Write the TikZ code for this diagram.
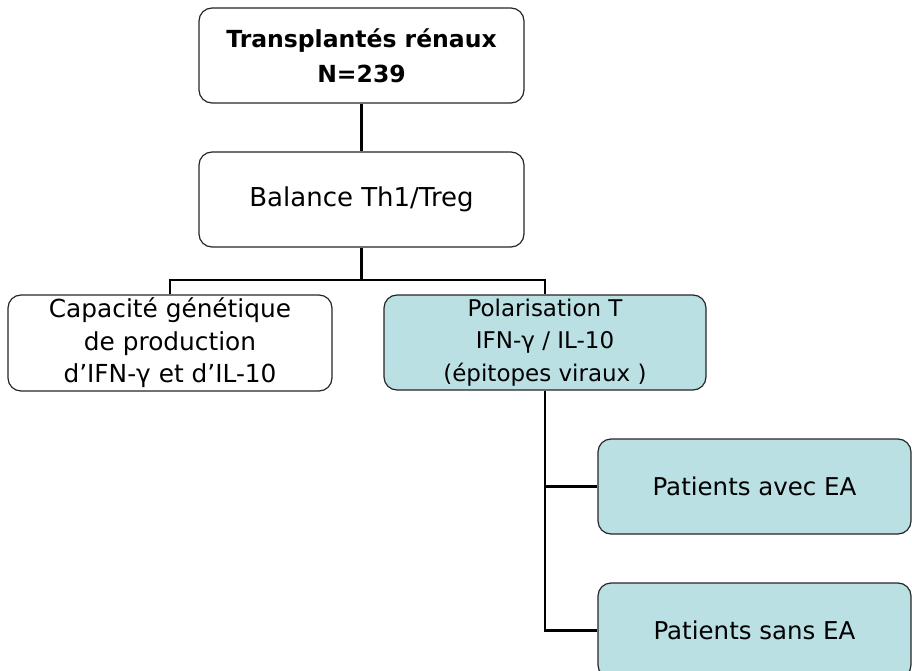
\documentclass[tikz,border=0pt]{standalone}
\usepackage{fontspec}
\setmainfont{DejaVu Sans}
\definecolor{boxteal}{RGB}{186,224,227}
\begin{document}
\begin{tikzpicture}[x=1pt,y=-1pt,
  box/.style={draw=black!85, line width=1.2pt, rounded corners=13pt, fill=white, align=center, inner sep=0pt},
  tealbox/.style={box, fill=boxteal},
  link/.style={line width=2.6pt, black}]
\useasboundingbox (0,0) rectangle (912,671);
\node[box, minimum width=325pt, minimum height=95pt, font=\bfseries\fontsize{23.5}{35}\selectfont] (top) at (361.5,55.5) {Transplantés rénaux\\N=239};
\node[box, minimum width=325pt, minimum height=95pt, font=\fontsize{26}{32}\selectfont] (bal) at (361.5,199.5) {Balance Th1/Treg};
\node[box, minimum width=324pt, minimum height=96pt, font=\fontsize{24.8}{32.5}\selectfont] (left) at (170,343) {Capacité génétique\\de production\\d’IFN-γ et d’IL-10};
\node[tealbox, minimum width=322pt, minimum height=95pt, font=\fontsize{23}{32.5}\selectfont] (pol) at (545,342.5) {Polarisation T\\IFN-γ / IL-10\\(épitopes viraux )};
\node[tealbox, minimum width=313pt, minimum height=95pt, font=\fontsize{24.5}{32}\selectfont] (avec) at (754.5,486.5) {Patients avec EA};
\node[tealbox, minimum width=313pt, minimum height=95pt, font=\fontsize{24.5}{32}\selectfont] (sans) at (754.5,630.5) {Patients sans EA};
\coordinate (bar) at (361.5,280);
\draw[link] (top.south) -- (bal.north);
\draw[link] (bal.south) -- (bar);
\draw[link] (left.north) |- (bar) -| (pol.north);
\draw[link] (pol.south) |- (avec.west);
\draw[link] (pol.south) |- (sans.west);
\end{tikzpicture}
\end{document}
